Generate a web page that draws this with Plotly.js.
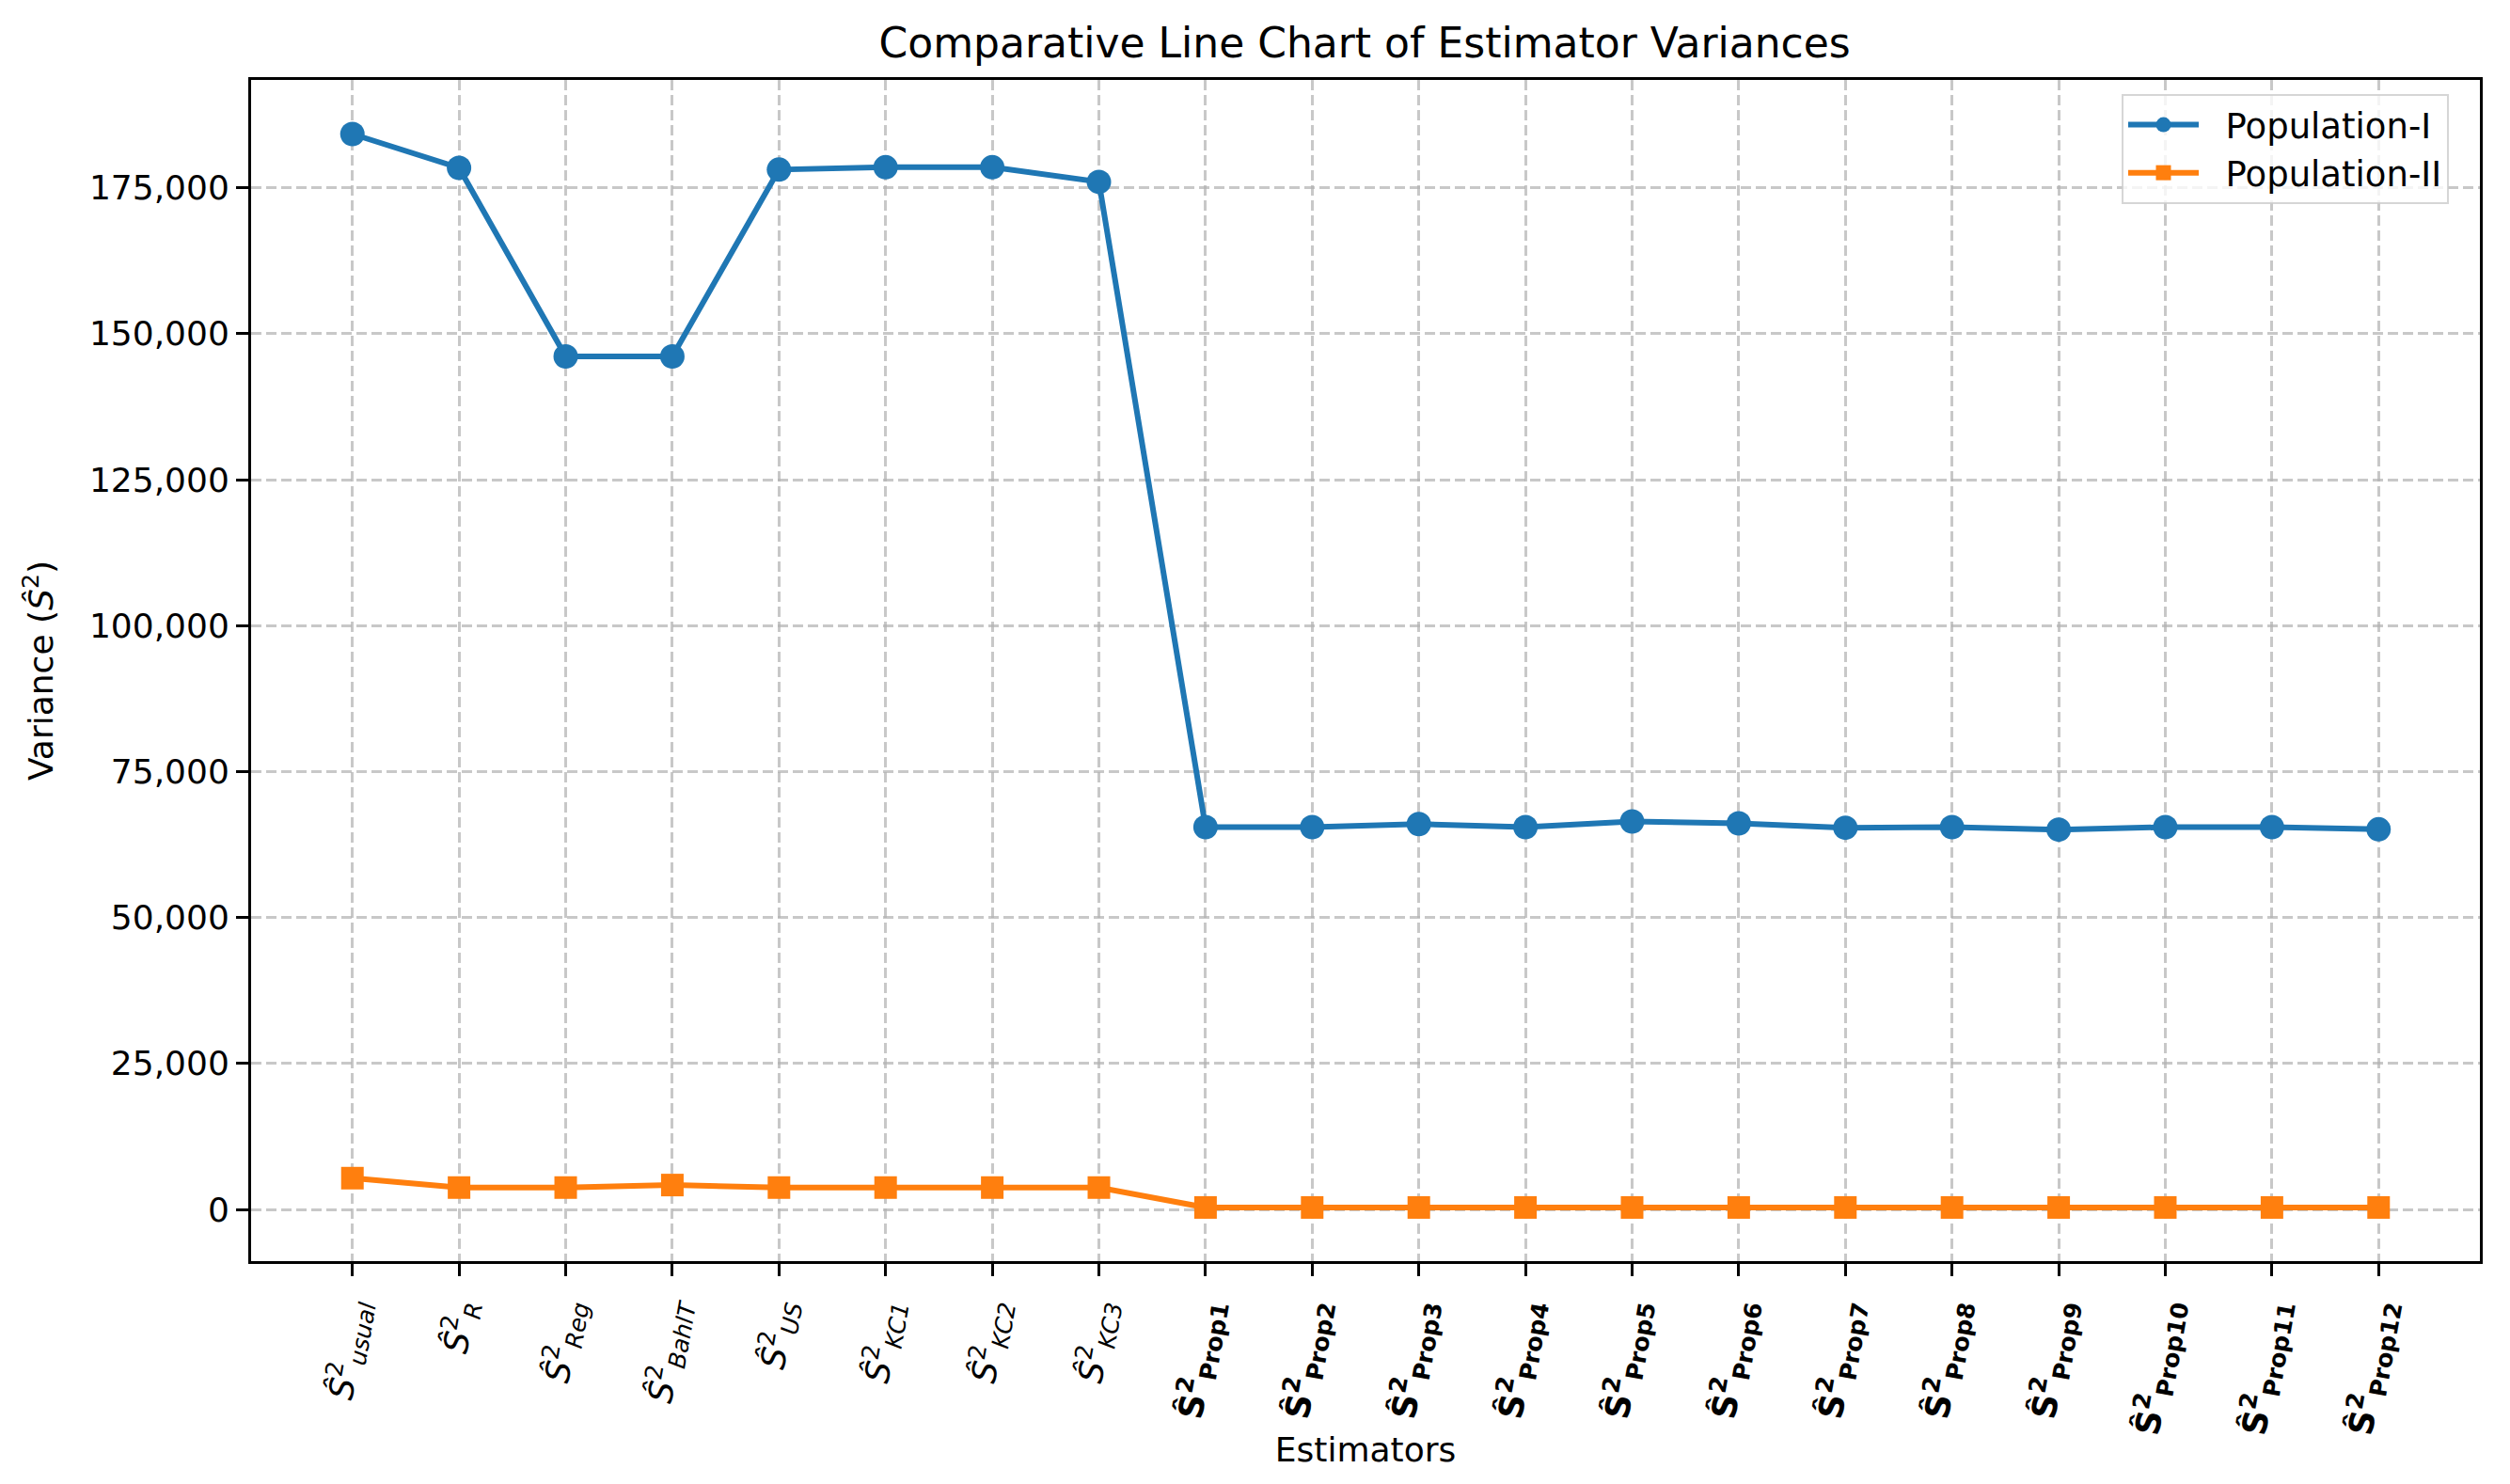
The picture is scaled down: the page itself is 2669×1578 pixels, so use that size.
<!DOCTYPE html>
<html>
<head>
<meta charset="utf-8">
<script src="https://cdn.plot.ly/plotly-3.0.1.min.js"></script>
<style>
  html, body { margin: 0; padding: 0; background: #fff; }
  #chart { width: 2669px; height: 1578px; }
</style>
</head>
<body>
<div id="chart"></div>
<script>
// estimator names (sub-scripts) and whether the label is drawn bold
const estimators = ["usual", "R", "Reg", "BahlT", "US", "KC1", "KC2", "KC3",
    "Prop1", "Prop2", "Prop3", "Prop4", "Prop5", "Prop6", "Prop7", "Prop8",
    "Prop9", "Prop10", "Prop11", "Prop12"];
const proposed = [false, false, false, false, false, false, false, false,
    true, true, true, true, true, true, true, true, true, true, true, true];

// variances
const popI = [184200, 178400, 146100, 146100, 178100, 178500, 178500, 176000,
    65480, 65480, 66000, 65480, 66450, 66130, 65370, 65480, 65050, 65480, 65480, 65100];
const popII = [5350, 3740, 3740, 4170, 3740, 3740, 3740, 3740,
    330, 330, 330, 330, 330, 330, 330, 330, 330, 330, 330, 330];

const yTicks = [0, 25000, 50000, 75000, 100000, 125000, 150000, 175000];

const tickText = estimators.map((name, i) => proposed[i]
    ? "<b>Ŝ<sup>2</sup><sub>" + name + "</sub></b>"
    : "<i>Ŝ</i><sup>2</sup><sub><i>" + name + "</i></sub>");
const xIdx = estimators.map((_, i) => i);

const font = "DejaVu Sans, Noto Sans, sans-serif";
const pad = "\u00a0\u00a0";  // gap between legend handle and text

let traces = [
    {
        x: xIdx, y: popI, name: pad + "Population-I",
        type: "scatter", mode: "lines+markers",
        line: { color: "#1f77b4", width: 6 },
        marker: { color: "#1f77b4", size: 26, symbol: "circle" }
    },
    {
        x: xIdx, y: popII, name: pad + "Population-II",
        type: "scatter", mode: "lines+markers",
        line: { color: "#ff7f0e", width: 6 },
        marker: { color: "#ff7f0e", size: 24, symbol: "square" }
    }
];

let layout = {
    width: 2669, height: 1578,
    paper_bgcolor: "#fff", plot_bgcolor: "#fff",
    font: { family: font, size: 36, color: "#000" },
    margin: { l: 267, r: 32, t: 85, b: 237, pad: 0 },
    title: {
        text: "Comparative Line Chart of Estimator Variances",
        font: { size: 44, color: "#000" },
        x: 0.5437, xanchor: "center",
        y: 1 - 46 / 1578, yanchor: "middle", yref: "container"
    },
    showlegend: true,
    legend: {
        x: (2604 - 267) / 2370, xanchor: "right",
        y: (1341 - 100) / 1256, yanchor: "top",
        bgcolor: "rgba(255,255,255,0.8)",
        bordercolor: "rgba(204,204,204,0.8)", borderwidth: 2,
        font: { size: 37 },
        itemwidth: 75
    },
    xaxis: {
        range: [-0.95, 19.95],
        tickmode: "array", tickvals: xIdx, ticktext: tickText,
        tickangle: -80,
        ticks: "outside", ticklen: 13, tickwidth: 3, tickcolor: "#000",
        tickfont: { size: 36 },
        showline: true, linecolor: "#000", linewidth: 3, mirror: true,
        showgrid: true, gridcolor: "rgba(176,176,176,0.7)", gridwidth: 3,
        griddash: "11px,5px",
        zeroline: false, automargin: false,
        title: { text: "Estimators", font: { size: 36 }, standoff: 0 }
    },
    yaxis: {
        range: [-8860, 193460],
        tickmode: "array", tickvals: yTicks,
        ticktext: yTicks.map(v => v.toLocaleString("en-US")),
        ticks: "outside", ticklen: 13, tickwidth: 3, tickcolor: "#000",
        tickfont: { size: 36 },
        showline: true, linecolor: "#000", linewidth: 3, mirror: true,
        showgrid: true, gridcolor: "rgba(176,176,176,0.7)", gridwidth: 3,
        griddash: "11px,5px",
        zeroline: false, automargin: false,
        title: { text: "Variance (<i>Ŝ</i><sup>2</sup>)", font: { size: 36 }, standoff: 28 }
    }
};

Plotly.newPlot("chart", traces, layout, { displayModeBar: false, staticPlot: true });
</script>
</body>
</html>
